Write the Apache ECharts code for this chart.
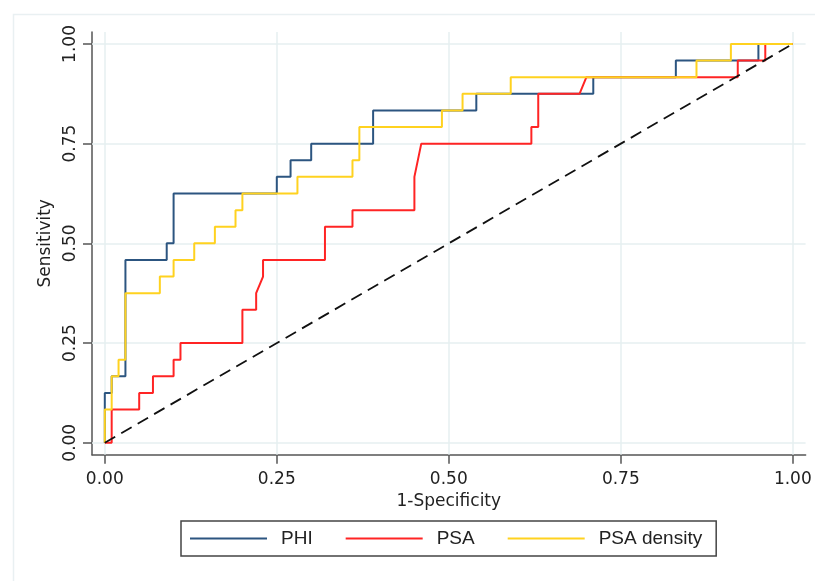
<!DOCTYPE html>
<html>
<head>
<meta charset="utf-8">
<script src="https://cdn.jsdelivr.net/npm/echarts@6/dist/echarts.min.js"></script>
<style>
html,body{margin:0;padding:0;background:#fff;}
#chart{width:815px;height:581px;}
</style>
</head>
<body>
<div id="chart"></div>
<script>
// ---- data ----
const tickValues = [0, 0.25, 0.5, 0.75, 1];

const seriesNames = ['PHI', 'PSA', 'PSA density'];

const phiX = [0, 0, 0.01, 0.01, 0.03, 0.03, 0.09, 0.09, 0.10, 0.10, 0.25, 0.25, 0.27, 0.27, 0.30, 0.30, 0.39, 0.39, 0.54, 0.54, 0.71, 0.71, 0.83, 0.83, 0.95, 0.95, 1.00];
const phiY = [0, 0.125, 0.125, 0.1667, 0.1667, 0.4583, 0.4583, 0.5, 0.5, 0.625, 0.625, 0.6667, 0.6667, 0.7083, 0.7083, 0.75, 0.75, 0.8333, 0.8333, 0.875, 0.875, 0.9167, 0.9167, 0.9583, 0.9583, 1, 1];

const psaX = [0, 0.01, 0.01, 0.05, 0.05, 0.07, 0.07, 0.10, 0.10, 0.11, 0.11, 0.20, 0.20, 0.22, 0.22, 0.23, 0.23, 0.32, 0.32, 0.36, 0.36, 0.45, 0.45, 0.46, 0.62, 0.62, 0.63, 0.63, 0.69, 0.70, 0.92, 0.92, 0.96, 0.96, 1];
const psaY = [0, 0, 0.0833, 0.0833, 0.125, 0.125, 0.1667, 0.1667, 0.2083, 0.2083, 0.25, 0.25, 0.3333, 0.3333, 0.375, 0.4167, 0.4583, 0.4583, 0.5417, 0.5417, 0.5833, 0.5833, 0.6667, 0.75, 0.75, 0.7917, 0.7917, 0.875, 0.875, 0.9167, 0.9167, 0.9583, 0.9583, 1, 1];

const psadX = [0, 0, 0.01, 0.01, 0.02, 0.02, 0.03, 0.03, 0.08, 0.08, 0.10, 0.10, 0.13, 0.13, 0.16, 0.16, 0.19, 0.19, 0.20, 0.20, 0.28, 0.28, 0.36, 0.36, 0.37, 0.37, 0.49, 0.49, 0.52, 0.52, 0.59, 0.59, 0.86, 0.86, 0.91, 0.91, 1];
const psadY = [0, 0.0833, 0.0833, 0.1667, 0.1667, 0.2083, 0.2083, 0.375, 0.375, 0.4167, 0.4167, 0.4583, 0.4583, 0.5, 0.5, 0.5417, 0.5417, 0.5833, 0.5833, 0.625, 0.625, 0.6667, 0.6667, 0.7083, 0.7083, 0.7917, 0.7917, 0.8333, 0.8333, 0.875, 0.875, 0.9167, 0.9167, 0.9583, 0.9583, 1, 1];

const refX = [0, 1];
const refY = [0, 1];

// ---- build chart ----
const zip = (xs, ys) => xs.map((x, i) => [x, ys[i]]);
const axisFont = 'DejaVu Sans';
const axisColor = '#555';
const gridColor = '#e6eff1';

const chart = echarts.init(document.getElementById('chart'), null, {renderer: 'canvas'});

const option = {
  backgroundColor: '#fff',
  animation: false,
  graphic: [{
    type: 'rect', left: 11, top: 12, z: -10,
    shape: {width: 812, height: 578},
    style: {fill: 'none', stroke: '#e9f0f2', lineWidth: 1.5}
  }],
  grid: {left: 92, top: 32, width: 713.6, height: 422.7, containLabel: false},
  xAxis: {
    type: 'value', min: -0.0186, max: 1.0186,
    name: '1-Specificity', nameLocation: 'middle', nameGap: 27,
    nameTextStyle: {fontFamily: axisFont, fontSize: 17, color: '#222'},
    axisLine: {show: true, onZero: false, lineStyle: {color: axisColor, width: 1.5}},
    axisTick: {show: true, customValues: tickValues, length: 9, lineStyle: {color: axisColor, width: 1.5}},
    axisLabel: {customValues: tickValues, margin: 16, fontFamily: axisFont, fontSize: 17, color: '#222',
      formatter: v => Number(v).toFixed(2)},
    splitLine: {show: false}
  },
  yAxis: {
    type: 'value', min: -0.03, max: 1.03,
    name: 'Sensitivity', nameLocation: 'middle', nameGap: 34,
    nameTextStyle: {fontFamily: axisFont, fontSize: 17, color: '#222'},
    axisLine: {show: true, onZero: false, lineStyle: {color: axisColor, width: 1.5}},
    axisTick: {show: true, customValues: tickValues, length: 9, lineStyle: {color: axisColor, width: 1.5}},
    axisLabel: {customValues: tickValues, rotate: 90, margin: 13, fontFamily: axisFont, fontSize: 17, color: '#222',
      formatter: v => Number(v).toFixed(2)},
    splitLine: {show: false}
  },
  legend: {
    data: seriesNames,
    left: 181, top: 521,
    orient: 'horizontal',
    padding: [8, 14, 8, 8],
    itemGap: 32,
    itemWidth: 77, itemHeight: 14,
    itemStyle: {opacity: 0},
    borderColor: '#444', borderWidth: 1.5,
    textStyle: {fontFamily: 'Liberation Sans', fontSize: 19, color: '#222', padding: [0, 0, 0, 9]}
  },
  series: [
    {
      type: 'line', name: '_grid', data: [], silent: true, z: 1,
      markLine: {
        silent: true, symbol: 'none', animation: false, z: 1,
        label: {show: false},
        lineStyle: {color: gridColor, width: 1.5, type: 'solid'},
        data: tickValues.map(v => ({xAxis: v})).concat(tickValues.map(v => ({yAxis: v})))
      }
    },
    {
      type: 'line', name: seriesNames[0], data: zip(phiX, phiY), symbol: 'none', z: 3,
      lineStyle: {color: '#2c5580', width: 2}, itemStyle: {color: '#2c5580'}
    },
    {
      type: 'line', name: seriesNames[1], data: zip(psaX, psaY), symbol: 'none', z: 4,
      lineStyle: {color: '#ff2424', width: 2}, itemStyle: {color: '#ff2424'}
    },
    {
      type: 'line', name: seriesNames[2], data: zip(psadX, psadY), symbol: 'none', z: 5,
      lineStyle: {color: '#ffd21f', width: 2}, itemStyle: {color: '#ffd21f'}
    },
    {
      type: 'line', name: 'reference', data: zip(refX, refY), symbol: 'none', z: 6,
      lineStyle: {color: '#111', width: 1.8, type: [12, 7]}
    }
  ]
};
chart.setOption(option);
</script>
</body>
</html>
